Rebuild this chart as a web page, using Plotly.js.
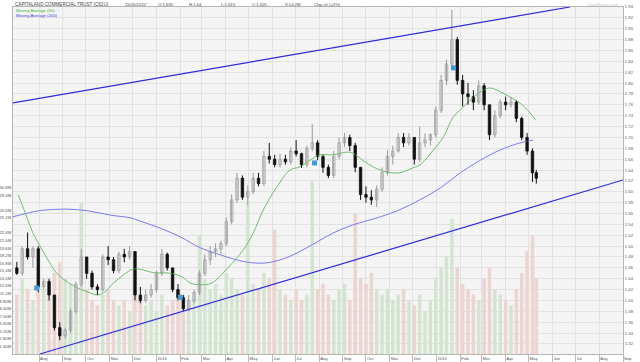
<!DOCTYPE html>
<html>
<head>
<meta charset="utf-8">
<script src="https://cdn.plot.ly/plotly-3.0.1.min.js"></script>
<style>html,body{margin:0;padding:0;background:#fff;}#chart{width:640px;height:362px;}</style>
</head>
<body>
<div id="chart"></div>
<script>
// ---- Data (weekly candles) ----
const weekDates = [
'2013-07-03','2013-07-10','2013-07-17','2013-07-24','2013-07-31','2013-08-07','2013-08-14','2013-08-21','2013-08-28',
'2013-09-04','2013-09-11','2013-09-18','2013-09-25','2013-10-02','2013-10-09','2013-10-16','2013-10-23','2013-10-30',
'2013-11-06','2013-11-13','2013-11-20','2013-11-27','2013-12-04','2013-12-11','2013-12-18','2013-12-25',
'2014-01-01','2014-01-08','2014-01-15','2014-01-22','2014-01-29','2014-02-05','2014-02-12','2014-02-19','2014-02-26',
'2014-03-05','2014-03-12','2014-03-19','2014-03-26','2014-04-02','2014-04-09','2014-04-16','2014-04-23','2014-04-30',
'2014-05-07','2014-05-14','2014-05-21','2014-05-28','2014-06-04','2014-06-11','2014-06-18','2014-06-25',
'2014-07-02','2014-07-09','2014-07-16','2014-07-23','2014-07-30','2014-08-06','2014-08-13','2014-08-20','2014-08-27',
'2014-09-03','2014-09-10','2014-09-17','2014-09-24','2014-10-01','2014-10-08','2014-10-15','2014-10-22','2014-10-29',
'2014-11-05','2014-11-12','2014-11-19','2014-11-26','2014-12-03','2014-12-10','2014-12-17','2014-12-24','2014-12-31',
'2015-01-07','2015-01-14','2015-01-21','2015-01-28','2015-02-04','2015-02-11','2015-02-18','2015-02-25',
'2015-03-04','2015-03-11','2015-03-18','2015-03-25','2015-04-01','2015-04-08','2015-04-15','2015-04-22','2015-04-29',
'2015-05-06','2015-05-11'];
const openP = [1.46,1.45,1.495,1.48,1.495,1.425,1.435,1.41,1.35,1.335,1.345,1.38,1.43,1.48,1.45,1.425,1.42,1.48,1.475,1.455,
1.485,1.48,1.49,1.41,1.40,1.41,1.42,1.45,1.485,1.46,1.42,1.405,1.385,1.40,1.415,1.45,1.475,1.49,1.495,1.505,
1.545,1.585,1.625,1.59,1.60,1.625,1.615,1.665,1.66,1.65,1.66,1.655,1.675,1.67,1.65,1.68,1.69,1.665,1.645,1.63,
1.665,1.69,1.70,1.685,1.645,1.595,1.59,1.585,1.605,1.635,1.665,1.675,1.70,1.69,1.70,1.66,1.69,1.695,1.705,1.75,
1.805,1.835,1.88,1.805,1.78,1.775,1.765,1.795,1.76,1.705,1.74,1.765,1.76,1.765,1.735,1.70,1.675,1.635];
const highP = [1.471,1.50,1.525,1.50,1.50,1.44,1.44,1.41,1.36,1.35,1.385,1.435,1.495,1.48,1.455,1.43,1.485,1.50,1.48,1.49,
1.495,1.50,1.49,1.425,1.42,1.43,1.455,1.495,1.488,1.46,1.43,1.41,1.41,1.42,1.455,1.485,1.50,1.505,1.51,1.553,
1.595,1.635,1.63,1.612,1.635,1.635,1.675,1.69,1.668,1.67,1.668,1.682,1.695,1.672,1.685,1.725,1.695,1.668,1.65,1.675,
1.70,1.708,1.705,1.69,1.645,1.61,1.603,1.612,1.645,1.677,1.685,1.708,1.708,1.708,1.70,1.72,1.708,1.708,1.757,1.815,
1.843,1.935,1.885,1.815,1.80,1.787,1.805,1.80,1.76,1.75,1.77,1.775,1.775,1.768,1.738,1.708,1.68,1.64];
const lowP = [1.447,1.445,1.475,1.46,1.415,1.42,1.40,1.345,1.327,1.33,1.34,1.375,1.425,1.44,1.42,1.41,1.415,1.465,1.45,1.45,
1.47,1.475,1.40,1.395,1.395,1.405,1.415,1.445,1.455,1.415,1.40,1.38,1.38,1.395,1.41,1.445,1.465,1.48,1.485,1.50,
1.54,1.58,1.585,1.576,1.595,1.61,1.61,1.652,1.645,1.645,1.65,1.65,1.665,1.644,1.645,1.675,1.658,1.635,1.625,1.625,
1.66,1.682,1.675,1.636,1.585,1.58,1.576,1.572,1.60,1.63,1.65,1.672,1.682,1.685,1.65,1.655,1.682,1.685,1.70,1.745,
1.796,1.83,1.797,1.757,1.76,1.75,1.76,1.75,1.695,1.70,1.735,1.75,1.755,1.728,1.695,1.668,1.618,1.615];
const closeP = [1.45,1.495,1.48,1.495,1.425,1.435,1.41,1.35,1.335,1.345,1.38,1.43,1.48,1.45,1.425,1.42,1.48,1.475,1.455,1.485,
1.48,1.49,1.41,1.40,1.41,1.42,1.45,1.485,1.46,1.42,1.405,1.385,1.40,1.415,1.45,1.475,1.49,1.495,1.505,1.545,
1.585,1.625,1.59,1.60,1.625,1.615,1.665,1.66,1.65,1.66,1.655,1.675,1.67,1.65,1.68,1.69,1.665,1.645,1.63,1.665,
1.69,1.70,1.685,1.645,1.595,1.59,1.585,1.605,1.635,1.665,1.675,1.70,1.69,1.70,1.66,1.69,1.695,1.705,1.75,1.805,
1.835,1.88,1.805,1.78,1.775,1.765,1.795,1.76,1.705,1.74,1.765,1.76,1.765,1.735,1.70,1.675,1.635,1.625];
const volumeM = [11,14,12,10,16,12,13,15,17,14,13,12,28,12,10,9,11,12,10,9,
10,8,12,11,9,10,8,11,9,10,12,11,9,10,22,14,12,13,11,15,
14,12,11,28,13,12,15,14,23,12,11,10,12,10,11,32,12,13,11,10,
12,13,10,26,14,13,15,12,11,12,10,11,12,10,9,11,8,10,14,16,
18,25,16,13,12,11,10,14,16,12,11,10,9,12,15,19,22,14];

// Moving averages
const ma50Dates = ['2013-07-05','2013-07-14','2013-07-24','2013-08-05','2013-08-15','2013-08-26','2013-09-07','2013-09-20','2013-10-03','2013-10-16','2013-10-24','2013-11-06','2013-11-19','2013-12-02','2013-12-15','2013-12-28','2014-01-10','2014-01-23','2014-02-04','2014-02-14','2014-02-27','2014-03-14','2014-04-04','2014-04-24','2014-05-07','2014-05-20','2014-06-07','2014-06-24','2014-07-07','2014-07-20','2014-08-02','2014-08-19','2014-09-06','2014-09-14','2014-09-27','2014-10-10','2014-10-29','2014-11-14','2014-12-01','2014-12-10','2014-12-28','2015-01-10','2015-01-23','2015-02-05','2015-02-18','2015-03-03','2015-03-12','2015-03-25','2015-04-07','2015-04-20','2015-05-03','2015-05-10'];
const ma50Vals = [1.594,1.561,1.524,1.493,1.469,1.447,1.434,1.423,1.416,1.410,1.414,1.432,1.447,1.458,1.456,1.451,1.451,1.449,1.443,1.432,1.429,1.432,1.460,1.493,1.524,1.566,1.609,1.640,1.646,1.658,1.668,1.668,1.673,1.671,1.658,1.646,1.636,1.635,1.644,1.649,1.677,1.701,1.738,1.756,1.774,1.787,1.791,1.784,1.774,1.763,1.745,1.732];
const ma200Dates = ['2013-06-28','2013-07-24','2013-08-06','2013-09-07','2013-10-03','2013-11-02','2013-11-28','2013-12-15','2014-01-06','2014-02-01','2014-02-27','2014-03-25','2014-04-27','2014-05-23','2014-06-18','2014-07-16','2014-08-19','2014-09-14','2014-10-20','2014-11-14','2014-12-10','2015-01-06','2015-02-01','2015-02-27','2015-03-25','2015-04-20','2015-05-07'];
const ma200Vals = [1.554,1.563,1.566,1.568,1.565,1.557,1.552,1.544,1.533,1.517,1.497,1.484,1.471,1.469,1.478,1.497,1.524,1.539,1.554,1.567,1.585,1.607,1.635,1.658,1.677,1.690,1.695];

// Trend lines (drawn on the chart)
const upperTrendDates = ['2013-06-28','2015-06-24'];
const upperTrendVals = [1.7634,1.94];
const lowerTrendDates = ['2013-08-02','2015-09-01'];
const lowerTrendVals = [1.3016,1.6217];

// Dividend markers
const divDates = ['2013-07-29','2014-02-01','2014-07-26','2015-01-23'];
const divVals = [1.423,1.406,1.653,1.828];

// Axis labels
const monthTicks = ['2013-08-01','2013-09-01','2013-10-01','2013-11-01','2013-12-01','2014-01-01','2014-02-01','2014-03-01','2014-04-01','2014-05-01','2014-06-01','2014-07-01','2014-08-01','2014-09-01','2014-10-01','2014-11-01','2014-12-01','2015-01-01','2015-02-01','2015-03-01','2015-04-01','2015-05-01','2015-06-01','2015-07-01','2015-08-01','2015-09-01'];
const monthLabels = ['Aug','Sep','Oct','Nov','Dec','2014','Feb','Mar','Apr','May','Jun','Jul','Aug','Sep','Oct','Nov','Dec','2015','Feb','Mar','Apr','May','Jun','Jul','Aug','Sep'];
const volTicks = [1.4,2.8,4.2,5.6,7.0,8.4,9.8,11.2,12.6,14.0,15.4,16.8,18.2,19.6,21.0,22.4,25.2,26.6,29.4,30.8];
const volLabels = ['1.40M','2.80M','4.20M','5.60M','7.00M','8.40M','9.80M','11.2M','12.6M','14.0M','15.4M','16.8M','18.2M','19.6M','21.0M','22.4M','25.2M','26.6M','29.4M','30.8M'];
const priceTicks = [1.32,1.34,1.36,1.38,1.40,1.42,1.44,1.46,1.48,1.50,1.52,1.54,1.56,1.58,1.60,1.62,1.64,1.66,1.68,1.70,1.72,1.74,1.76,1.78,1.80,1.82,1.84,1.86,1.88,1.90,1.92,1.94];

// ---- Traces ----
const DAY = 86400000;
const isUp = closeP.map((c, i) => c >= openP[i]);
const volColors = isUp.map(u => u ? '#d3e5d0' : '#ecd5d0');

function wicks(up) {
  const x = [], y = [];
  weekDates.forEach((d, i) => {
    if (isUp[i] === up) { x.push(d, d, null); y.push(lowP[i], highP[i], null); }
  });
  return {x, y};
}
const upW = wicks(true), dnW = wicks(false);
const bodyBase = openP.map((o, i) => Math.min(o, closeP[i]));
const bodyLen = openP.map((o, i) => Math.max(Math.abs(closeP[i] - o), 0.002));

const FONT = 'Liberation Sans, Arial, sans-serif';

const traces = [
  {type:'bar', x:weekDates, y:volumeM, xaxis:'x', yaxis:'y', width:4.6*DAY,
   marker:{color:volColors, line:{width:0}}, hoverinfo:'skip', showlegend:false},
  {type:'scatter', mode:'lines', x:ma200Dates, y:ma200Vals, xaxis:'x', yaxis:'y2',
   line:{color:'#7a7af0', width:1, shape:'spline'}, showlegend:false},
  {type:'scatter', mode:'lines', x:ma50Dates, y:ma50Vals, xaxis:'x', yaxis:'y2',
   line:{color:'#6cbf6c', width:1, shape:'spline'}, showlegend:false},
  {type:'scatter', mode:'lines', x:upW.x, y:upW.y, xaxis:'x', yaxis:'y2',
   line:{color:'#9a9a9a', width:1}, showlegend:false},
  {type:'scatter', mode:'lines', x:dnW.x, y:dnW.y, xaxis:'x', yaxis:'y2',
   line:{color:'#111111', width:1}, showlegend:false},
  {type:'bar', x:weekDates, y:bodyLen, base:bodyBase, xaxis:'x', yaxis:'y2', width:3.2*DAY,
   marker:{color:isUp.map(u => u ? '#ffffff' : '#111111'),
           line:{color:isUp.map(u => u ? '#9a9a9a' : '#111111'), width:0.8}}, showlegend:false},
  {type:'scatter', mode:'lines', x:upperTrendDates, y:upperTrendVals, xaxis:'x', yaxis:'y2',
   line:{color:'#2b2bdd', width:1.2}, showlegend:false},
  {type:'scatter', mode:'lines', x:lowerTrendDates, y:lowerTrendVals, xaxis:'x', yaxis:'y2',
   line:{color:'#2b2bdd', width:1.2}, showlegend:false},
  {type:'scatter', mode:'markers', x:divDates, y:divVals, xaxis:'x', yaxis:'y2',
   marker:{symbol:'square', size:5, color:'#3d9ad6'}, showlegend:false}
];

// ---- Layout ----
const L = 13, R = 623, T = 7, B = 354;
const px = p => (p - L) / (R - L);
const py = p => (B - p) / (B - T);
function ann(text, x, y, color, size) {
  return {text:text, x:px(x), y:py(y), xref:'paper', yref:'paper', xanchor:'left', yanchor:'middle',
          showarrow:false, font:{family:FONT, size:size, color:color}};
}
const annotations = [
  ann('CAPITALAND COMMERCIAL TRUST (C61U)', 13, 4, '#444', 4.6),
  ann('11/05/2015*', 123, 4, '#444', 4.2),
  ann('O:1.635', 156, 4, '#444', 4.2),
  ann('H:1.64', 187, 4, '#444', 4.2),
  ann('L:1.615', 219, 4, '#444', 4.2),
  ann('C:1.625', 250, 4, '#444', 4.2),
  ann('V:14.2M', 283, 4, '#444', 4.2),
  ann('Chg:+0 (+0%)', 312, 4, '#444', 4.2),
  ann('ChartNexus.com', 585, 4, '#c8c8c8', 4.2),
  ann('Moving Average (50)', 14, 11, '#3fae3f', 4.2),
  ann('Moving Average (200)', 14, 15.5, '#3a3ae0', 4.2)
];

const layout = {
  width:640, height:362,
  margin:{l:L, r:640-R, t:T, b:362-B, pad:0},
  paper_bgcolor:'#ffffff', plot_bgcolor:'#f4f4f4',
  showlegend:false, barmode:'overlay',
  font:{family:FONT, size:4.2, color:'#555'},
  xaxis:{type:'date', range:['2013-06-28','2015-09-01'], tickvals:monthTicks, ticktext:monthLabels,
         ticklabelposition:'outside right', ticks:'outside', ticklen:7, tickcolor:'#bbbbbb',
         showgrid:true, gridcolor:'#e2e2e2', gridwidth:1, showline:true, linecolor:'#b5b5b5', mirror:true,
         tickfont:{family:FONT, size:4.2, color:'#555'}, zeroline:false, fixedrange:true},
  yaxis:{range:[0,64.2], tickvals:volTicks, ticktext:volLabels, side:'left', showgrid:false, zeroline:false,
         showline:true, linecolor:'#b5b5b5', ticks:'', tickfont:{family:FONT, size:4.2, color:'#555'}},
  yaxis2:{overlaying:'y', side:'right', range:[1.3015,1.94], tickvals:priceTicks, tickformat:'.2f',
          showgrid:true, gridcolor:'#e2e2e2', gridwidth:1, zeroline:false, showline:true, linecolor:'#b5b5b5',
          ticks:'', tickfont:{family:FONT, size:4.2, color:'#555'}},
  annotations:annotations
};

Plotly.newPlot('chart', traces, layout, {displayModeBar:false, staticPlot:true});
</script>
</body>
</html>
